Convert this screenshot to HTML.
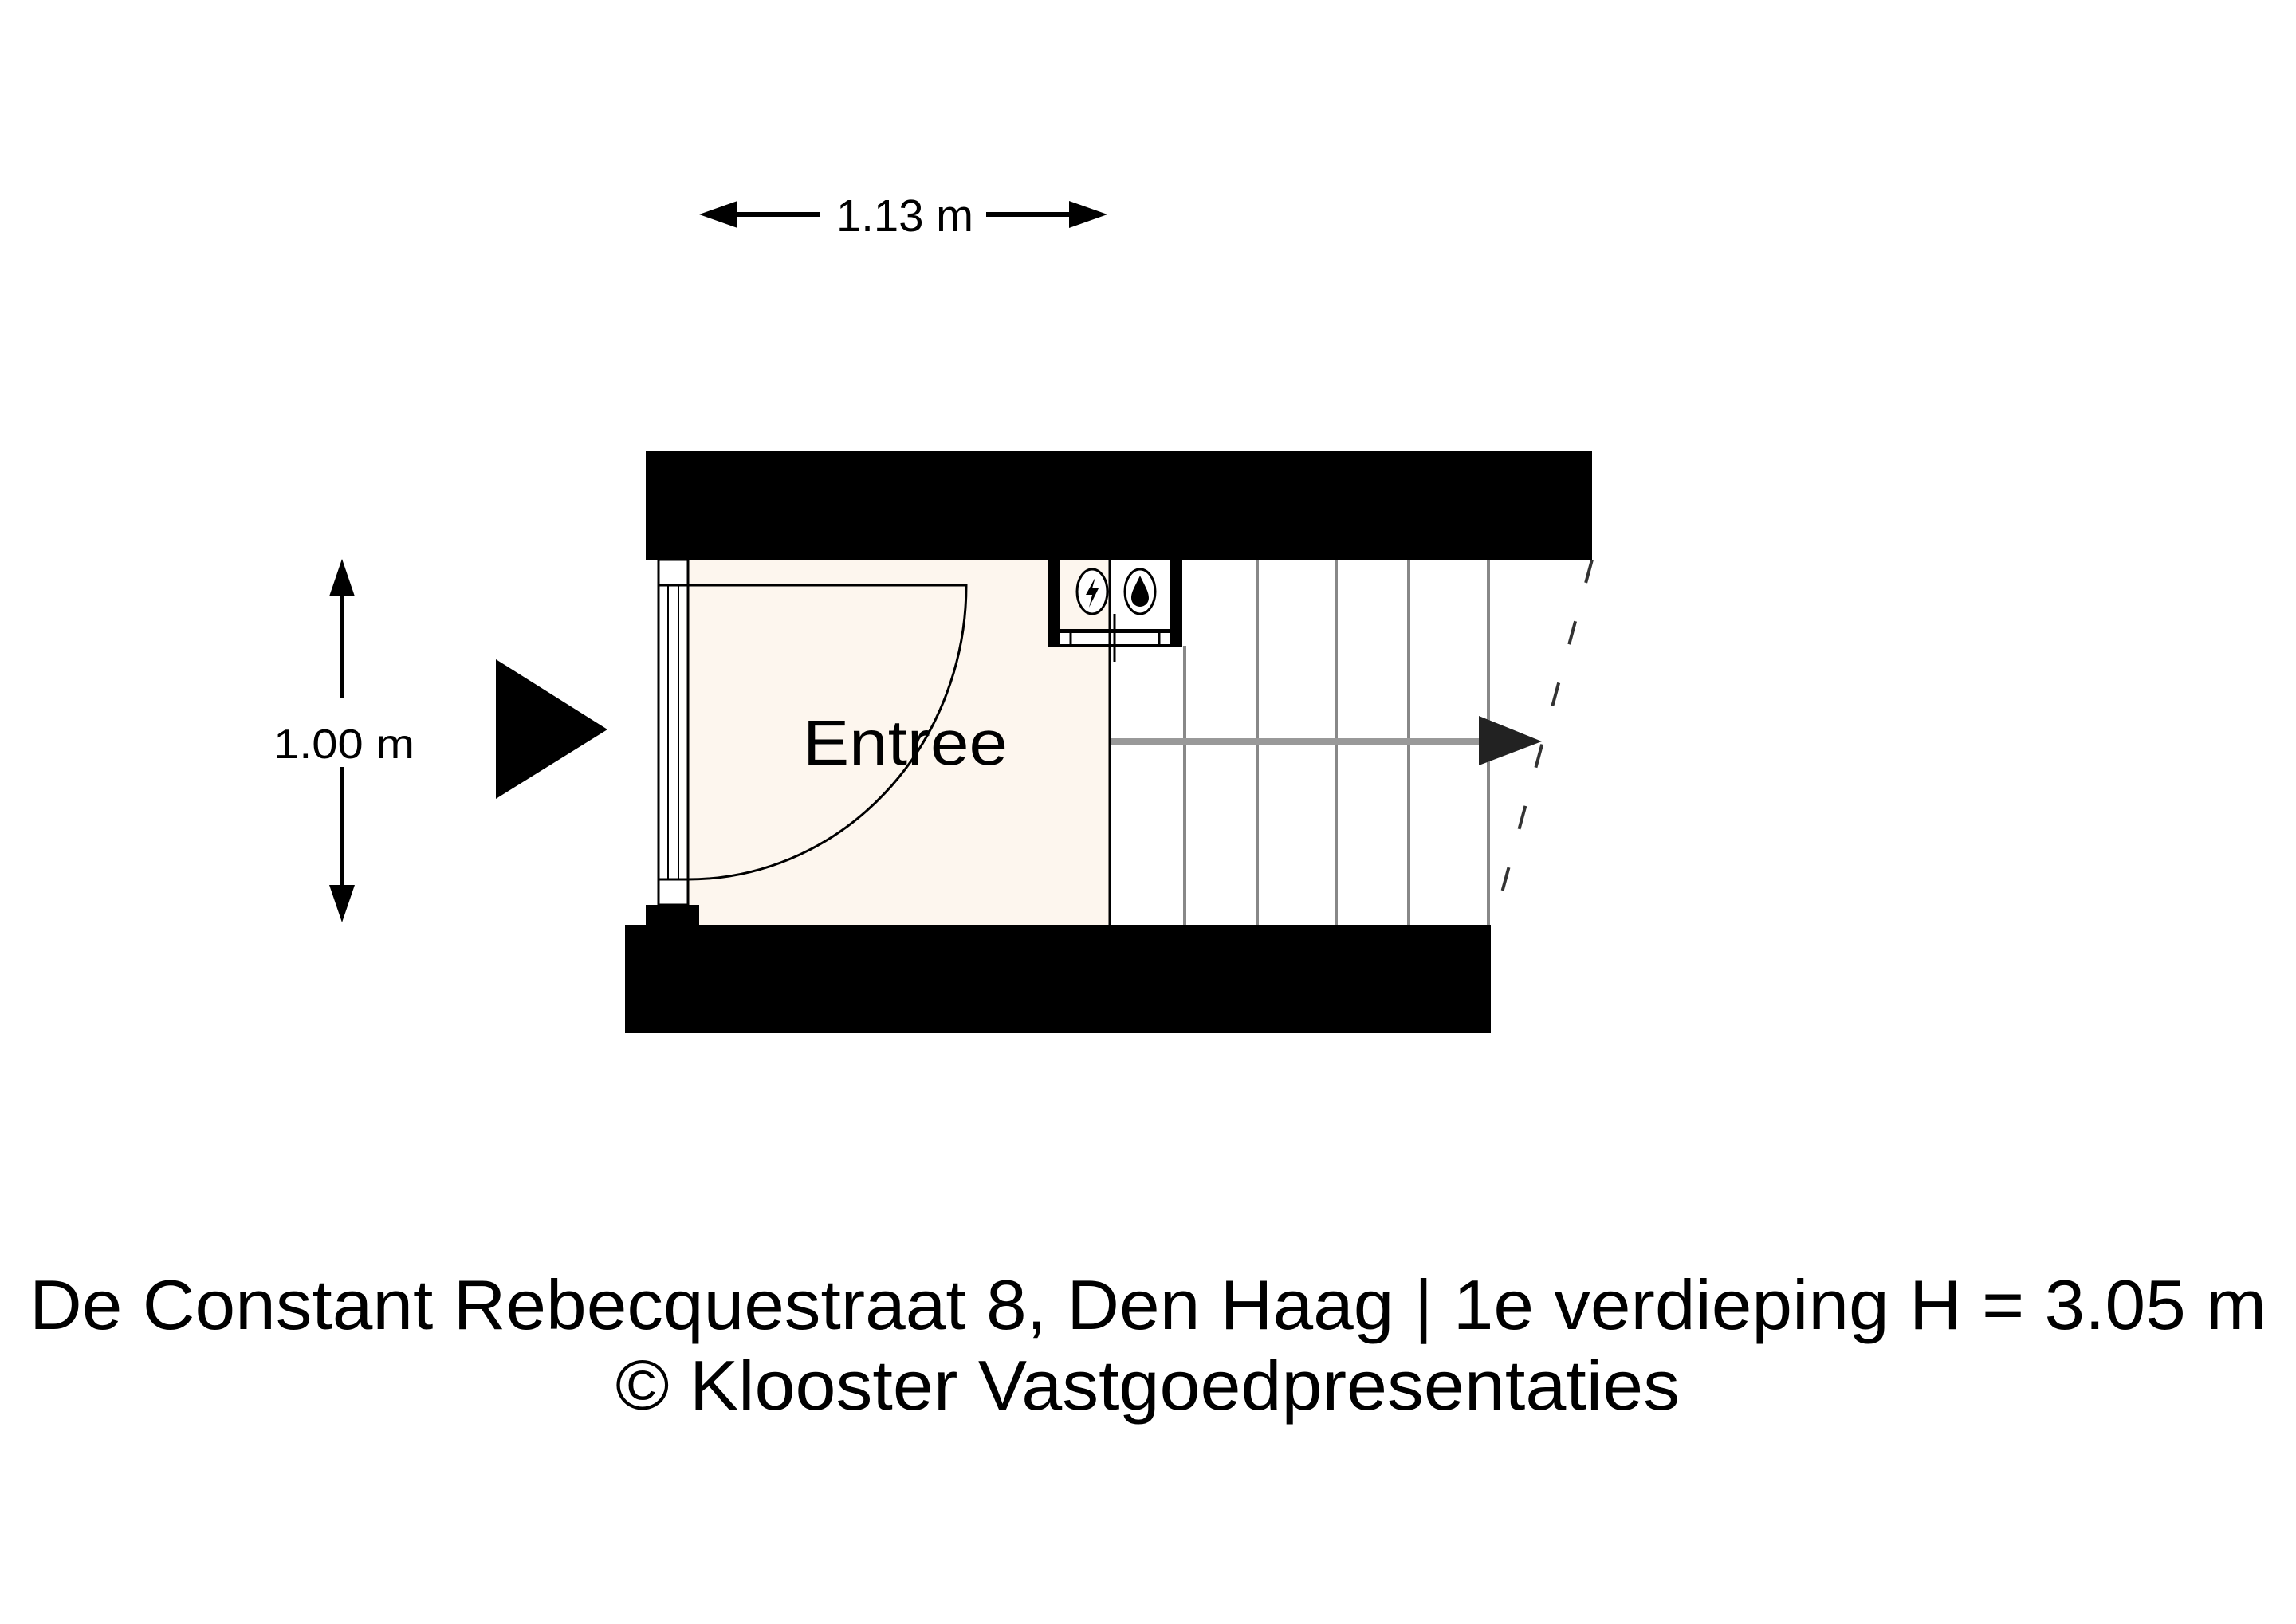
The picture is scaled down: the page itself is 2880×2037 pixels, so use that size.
<!DOCTYPE html>
<html><head><meta charset="utf-8"><style>html,body{margin:0;padding:0;background:#fff}svg{display:block}</style></head>
<body>
<svg width="2880" height="2037" viewBox="0 0 2880 2037" xmlns="http://www.w3.org/2000/svg" font-family="'Liberation Sans', sans-serif">
<rect width="2880" height="2037" fill="#fff"/>
<!-- horizontal dimension -->
<polygon points="877,269 925,252 925,286" fill="#000"/>
<rect x="924" y="266" width="105" height="6" fill="#000"/>
<text x="1049" y="290" font-size="57" textLength="172" lengthAdjust="spacingAndGlyphs">1.13 m</text>
<rect x="1237" y="266" width="105" height="6" fill="#000"/>
<polygon points="1389,269 1341,252 1341,286" fill="#000"/>
<!-- vertical dimension -->
<polygon points="429,701 413,748 445,748" fill="#000"/>
<rect x="426" y="747" width="6" height="129" fill="#000"/>
<text x="343" y="951" font-size="52" textLength="177" lengthAdjust="spacingAndGlyphs">1.00 m</text>
<rect x="426" y="962" width="6" height="148" fill="#000"/>
<polygon points="429,1157 413,1110 445,1110" fill="#000"/>
<!-- entry triangle -->
<polygon points="622,827 762,915 622,1002" fill="#000"/>
<!-- beige floor -->
<rect x="863" y="702" width="529" height="458" fill="#fdf6ee"/>
<!-- stairs -->
<rect x="1392" y="702" width="480" height="458" fill="#fff"/>
<g stroke="#888" stroke-width="4">
<line x1="1486" y1="810" x2="1486" y2="1160"/>
<line x1="1577" y1="702" x2="1577" y2="1160"/>
<line x1="1676" y1="702" x2="1676" y2="1160"/>
<line x1="1767" y1="702" x2="1767" y2="1160"/>
<line x1="1867" y1="702" x2="1867" y2="1160"/>
</g>
<line x1="1392" y1="930" x2="1860" y2="930" stroke="#999" stroke-width="8"/>
<polygon points="1855,898 1934,930 1855,960" fill="#222"/>
<line x1="1997" y1="702" x2="1873" y2="1160" stroke="#333" stroke-width="4" stroke-dasharray="30,50"/>
<line x1="1392" y1="810" x2="1392" y2="1160" stroke="#000" stroke-width="3"/>
<!-- walls -->
<rect x="810" y="566" width="1187" height="136" fill="#000"/>
<rect x="784" y="1160" width="1086" height="136" fill="#000"/>
<rect x="810" y="1135" width="67" height="30" fill="#000"/>
<!-- door frame -->
<rect x="826" y="702" width="37" height="433" fill="#fff" stroke="#000" stroke-width="3"/>
<line x1="826" y1="734" x2="863" y2="734" stroke="#000" stroke-width="3"/>
<line x1="826" y1="1103" x2="863" y2="1103" stroke="#000" stroke-width="3"/>
<line x1="838" y1="734" x2="838" y2="1103" stroke="#000" stroke-width="2"/>
<line x1="851" y1="734" x2="851" y2="1103" stroke="#000" stroke-width="2"/>
<!-- door leaf -->
<path d="M863 734 L1212 734 A349 369 0 0 1 863 1103" fill="none" stroke="#000" stroke-width="3"/>
<!-- meter box -->
<rect x="1314" y="702" width="169" height="110" fill="#000"/>
<rect x="1330" y="702" width="62" height="87" fill="#fdf6ee"/>
<rect x="1394" y="702" width="74" height="87" fill="#fff"/>
<rect x="1330" y="794" width="138" height="14" fill="#fff"/>
<line x1="1343" y1="794" x2="1343" y2="808" stroke="#000" stroke-width="3"/>
<line x1="1454" y1="794" x2="1454" y2="808" stroke="#000" stroke-width="3"/>
<line x1="1392" y1="702" x2="1392" y2="812" stroke="#000" stroke-width="3"/>
<line x1="1398" y1="770" x2="1398" y2="830" stroke="#000" stroke-width="3"/>
<ellipse cx="1370" cy="742" rx="19" ry="28" fill="#fff" stroke="#000" stroke-width="3"/>
<polygon points="1374,724 1362,746 1370,746 1366,762 1378,738 1370,738" fill="#000"/>
<ellipse cx="1430" cy="742" rx="19" ry="28" fill="#fff" stroke="#000" stroke-width="3"/>
<path d="M1430 722 C1424 735 1419 742 1419 750 A11 11 0 0 0 1441 750 C1441 742 1436 735 1430 722 Z" fill="#000"/>
<!-- label -->
<text x="1007" y="959" font-size="80" textLength="257" lengthAdjust="spacingAndGlyphs">Entree</text>
<!-- footer -->
<text x="37" y="1667" font-size="88" textLength="2806" lengthAdjust="spacingAndGlyphs">De Constant Rebecquestraat 8, Den Haag | 1e verdieping H = 3.05 m</text>
<text x="772" y="1768" font-size="88" textLength="1335" lengthAdjust="spacingAndGlyphs">© Klooster Vastgoedpresentaties</text>
</svg>
</body></html>
